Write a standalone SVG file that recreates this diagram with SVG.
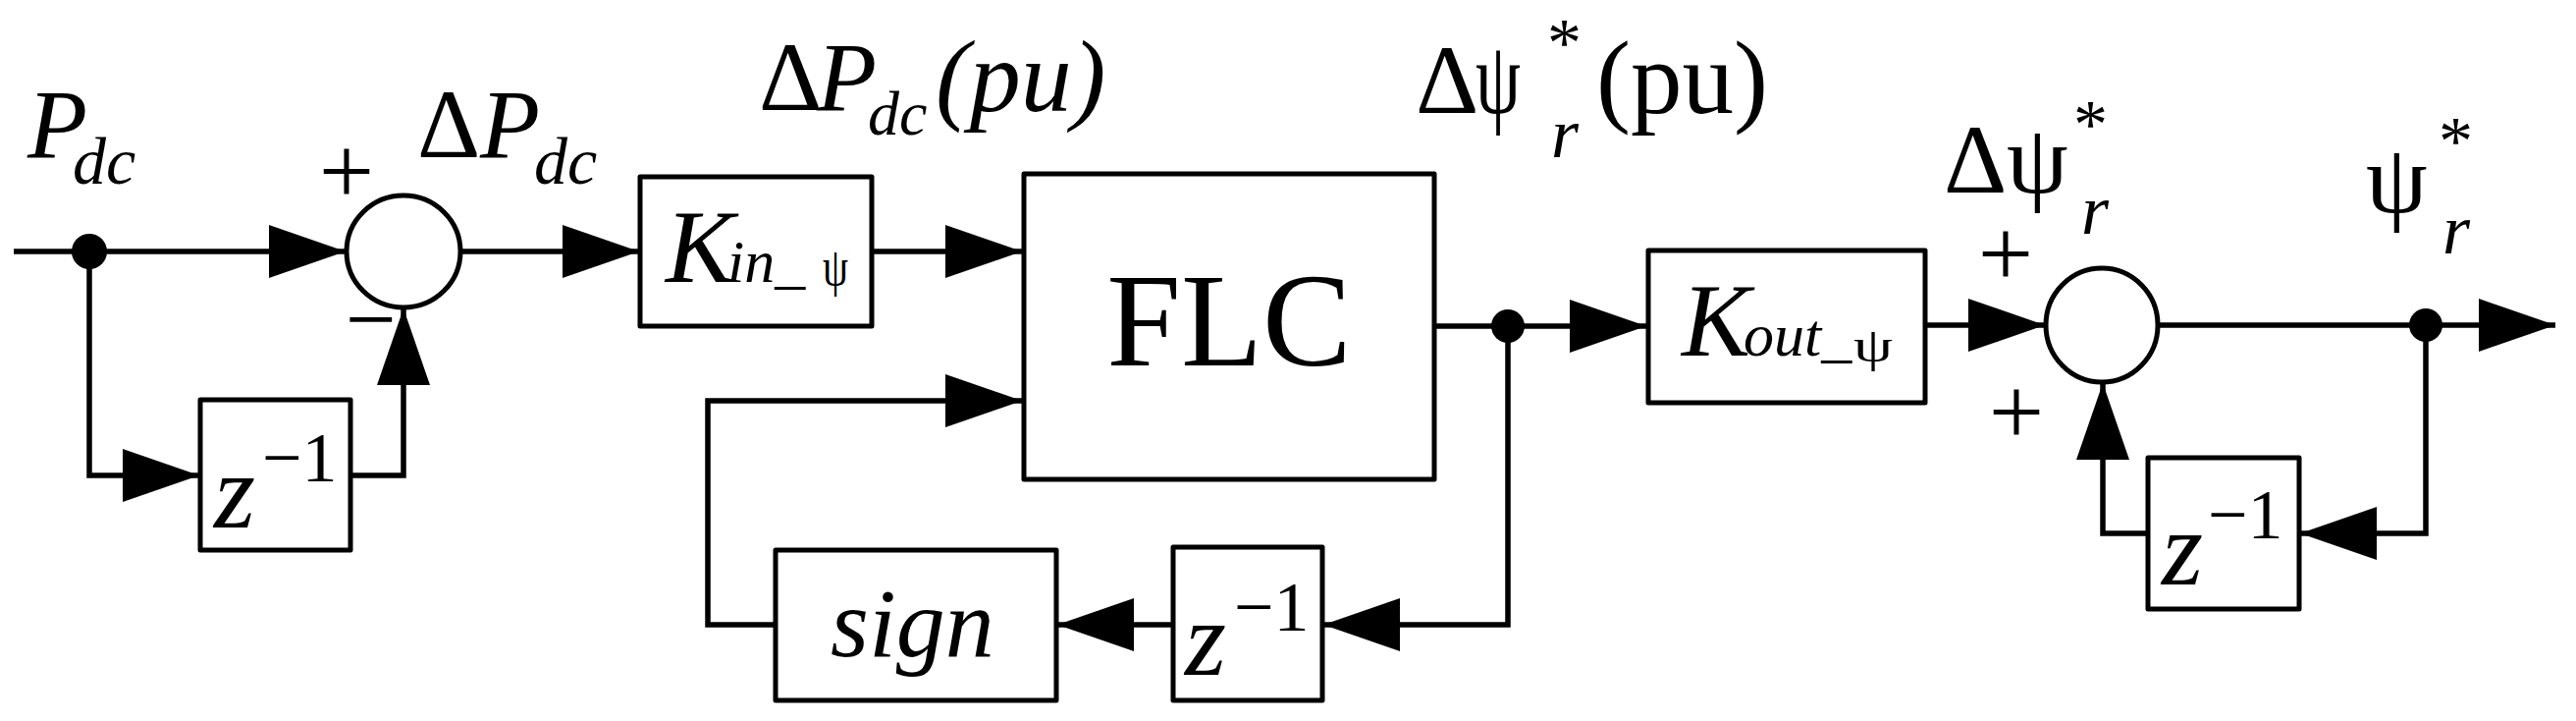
<svg xmlns="http://www.w3.org/2000/svg" width="2624" height="734" viewBox="0 0 2624 734">
<style>
.ln{fill:none;stroke:#000;stroke-width:5.5;stroke-linejoin:miter}
.box{fill:#fff;stroke:#000;stroke-width:5;stroke-linejoin:round}
.sum{fill:#fff;stroke:#000;stroke-width:5}
.dot{fill:#000}
.t{font-family:"Liberation Serif","Times New Roman",serif;fill:#000}
.i{font-style:italic}
</style>
<defs>
<marker id="ah" markerUnits="userSpaceOnUse" markerWidth="80" markerHeight="56" viewBox="0 0 80 56" refX="78" refY="28" orient="auto">
<path d="M0,1 L78,28 L0,55 Z" fill="#000"/>
</marker>
</defs>
<rect width="2624" height="734" fill="#fff"/>

<g id="connectors">
<path class="ln" d="M14,256 H352" marker-end="url(#ah)"/>
<path class="ln" d="M91,256 V484 H203" marker-end="url(#ah)"/>
<path class="ln" d="M357,484 H411 V314" marker-end="url(#ah)"/>
<path class="ln" d="M469,256 H651" marker-end="url(#ah)"/>
<path class="ln" d="M888,256 H1041" marker-end="url(#ah)"/>
<path class="ln" d="M1461,332 H1677" marker-end="url(#ah)"/>
<path class="ln" d="M1536,332 V636 H1348" marker-end="url(#ah)"/>
<path class="ln" d="M1195,636 H1077" marker-end="url(#ah)"/>
<path class="ln" d="M790,636 H721 V408 H1041" marker-end="url(#ah)"/>
<path class="ln" d="M1961,331 H2083" marker-end="url(#ah)"/>
<path class="ln" d="M2198,331 H2603" marker-end="url(#ah)"/>
<path class="ln" d="M2471,331 V543 H2343" marker-end="url(#ah)"/>
<path class="ln" d="M2188,543 H2142 V390" marker-end="url(#ah)"/>
<circle class="dot" cx="91" cy="256" r="18"/>
<circle class="dot" cx="1536" cy="332" r="17"/>
<circle class="dot" cx="2471" cy="331" r="17"/>
</g>

<g id="label-pdc">
<text class="t i" x="28" y="160" font-size="100">P</text>
<text class="t i" x="74" y="187" font-size="68">dc</text>
</g>

<g id="sum1">
<ellipse class="sum" cx="411" cy="256" rx="58" ry="57"/>
<text class="t" x="353" y="208" font-size="100" text-anchor="middle">+</text>
<text class="t" x="378" y="356" font-size="92" text-anchor="middle">−</text>
</g>

<g id="label-dpdc">
<text class="t" x="425" y="160" font-size="100">Δ</text>
<text class="t i" x="489" y="160" font-size="100">P</text>
<text class="t i" x="544" y="187" font-size="68">dc</text>
</g>

<g id="delay1">
<rect class="box" x="204" y="407" width="153" height="153"/>
<text class="t i" x="218" y="537" font-size="108">z</text>
<text class="t" x="267" y="490" font-size="72">−1</text>
</g>

<g id="kin">
<rect class="box" x="652" y="180" width="236" height="152"/>
<text class="t i" x="678" y="287" font-size="105">K</text>
<text class="t i" x="741" y="287" font-size="62">in_</text>
<text class="t" x="838" y="290" font-size="55" textLength="26" lengthAdjust="spacingAndGlyphs">ψ</text>
</g>

<g id="label-dpdc-pu">
<text class="t" x="773" y="112" font-size="100">Δ</text>
<text class="t i" x="832" y="112" font-size="100">P</text>
<text class="t i" x="884" y="137" font-size="64">dc</text>
<text class="t i" x="953" y="113" font-size="104">(pu)</text>
</g>

<g id="flc">
<rect class="box" x="1043" y="177" width="418" height="311"/>
<text class="t" x="1252" y="372" font-size="136" text-anchor="middle">FLC</text>
</g>

<g id="label-dpsi-pu">
<text class="t" x="1442" y="115" font-size="100">Δ</text>
<text class="t" x="1503" y="115" font-size="105" textLength="46" lengthAdjust="spacingAndGlyphs">ψ</text>
<text class="t" x="1576" y="67" font-size="70">*</text>
<text class="t i" x="1580" y="160" font-size="72">r</text>
<text class="t" x="1626" y="115" font-size="105">(pu)</text>
</g>

<g id="sign">
<rect class="box" x="790" y="560" width="286" height="153"/>
<text class="t i" x="846" y="668" font-size="100">sign</text>
</g>

<g id="delay2">
<rect class="box" x="1195" y="557" width="152" height="156"/>
<text class="t i" x="1207" y="687" font-size="108">z</text>
<text class="t" x="1257" y="642" font-size="72">−1</text>
</g>

<g id="kout">
<rect class="box" x="1679" y="255" width="282" height="155"/>
<text class="t i" x="1713" y="362" font-size="105">K</text>
<text class="t i" x="1776" y="362" font-size="62">out_</text>
<text class="t" x="1888" y="368" font-size="48" textLength="40" lengthAdjust="spacingAndGlyphs">ψ</text>
</g>

<g id="sum2">
<ellipse class="sum" cx="2141" cy="331" rx="57" ry="58"/>
<text class="t" x="2043" y="292" font-size="100" text-anchor="middle">+</text>
<text class="t" x="2054" y="453" font-size="100" text-anchor="middle">+</text>
</g>

<g id="label-dpsi">
<text class="t" x="1980" y="196" font-size="100">Δ</text>
<text class="t" x="2044" y="196" font-size="100">ψ</text>
<text class="t" x="2112" y="150" font-size="70">*</text>
<text class="t i" x="2120" y="238" font-size="72">r</text>
</g>

<g id="delay3">
<rect class="box" x="2188" y="466" width="154" height="154"/>
<text class="t i" x="2202" y="595" font-size="108">z</text>
<text class="t" x="2249" y="548" font-size="72">−1</text>
</g>

<g id="label-psi">
<text class="t" x="2410" y="216" font-size="100">ψ</text>
<text class="t" x="2484" y="167" font-size="70">*</text>
<text class="t i" x="2488" y="258" font-size="72">r</text>
</g>
</svg>
